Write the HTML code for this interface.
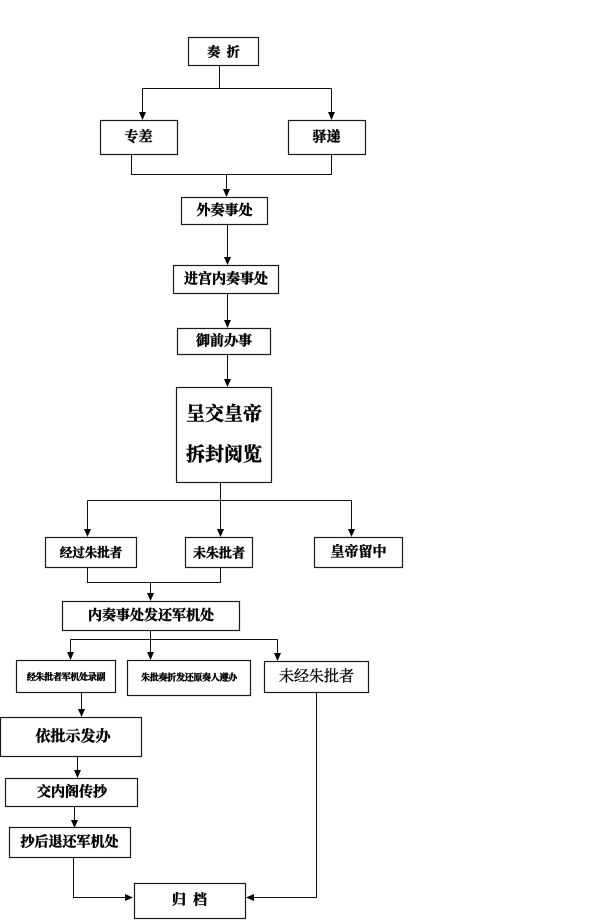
<!DOCTYPE html>
<html>
<head>
<meta charset="utf-8">
<style>
html,body{margin:0;padding:0;background:#fff;}
svg{display:block;}
text{font-family:"Liberation Serif","Noto Serif CJK SC","Noto Sans CJK SC",serif;font-weight:700;fill:#000;}
.b{stroke:#000;stroke-width:0.45;}
.m{font-weight:400;stroke:#000;stroke-width:0.35;}
</style>
</head>
<body>
<svg width="605" height="920" viewBox="0 0 605 920" xmlns="http://www.w3.org/2000/svg">
<g fill="none" stroke="#1a1a1a" stroke-width="1.2">
  <rect x="188.5" y="37.5" width="70" height="28"/>
  <rect x="100.5" y="120.5" width="77" height="34"/>
  <rect x="288.5" y="120.5" width="77" height="34"/>
  <rect x="181.5" y="197.5" width="86" height="27"/>
  <rect x="173.5" y="265.5" width="105" height="28"/>
  <rect x="177.5" y="328.5" width="93" height="26"/>
  <rect x="176.5" y="387.5" width="95" height="95"/>
  <rect x="45.5" y="537.5" width="91" height="30"/>
  <rect x="185.5" y="537.5" width="67" height="30"/>
  <rect x="314.5" y="537.5" width="88" height="30"/>
  <rect x="62.5" y="601.5" width="177" height="29"/>
  <rect x="16.5" y="660.5" width="99" height="32"/>
  <rect x="127.5" y="660.5" width="123" height="35"/>
  <rect x="264.5" y="661.5" width="104" height="31"/>
  <rect x="0.5" y="717.5" width="141" height="39"/>
  <rect x="5.5" y="778.5" width="132" height="28"/>
  <rect x="9.5" y="827.5" width="121" height="30"/>
  <rect x="134.5" y="883.5" width="111" height="35"/>
</g>
<g fill="none" stroke="#111" stroke-width="1">
  <path d="M219.5 65.5 V88.5 M142.5 88.5 H331.5 M142.5 88.5 V113 M331.5 88.5 V113"/>
  <path d="M131.5 154.5 V174.5 H331.5 V154.5 M226.5 174.5 V190"/>
  <path d="M227.5 224.5 V258"/>
  <path d="M227.5 293.5 V321"/>
  <path d="M227.5 354.5 V380"/>
  <path d="M220.5 482.5 V500.5 M87.5 500.5 H351.5 M87.5 500.5 V530 M220.5 500.5 V530 M351.5 500.5 V530"/>
  <path d="M87.5 567.5 V582.5 H220.5 V567.5 M150.5 582.5 V594"/>
  <path d="M150.5 630.5 V639.5 M70.5 639.5 H277.5 M70.5 639.5 V653 M150.5 639.5 V653 M277.5 639.5 V654"/>
  <path d="M81.5 692.5 V710"/>
  <path d="M77.5 756.5 V771"/>
  <path d="M74.5 806.5 V821"/>
  <path d="M73.5 857.5 V897.5 H126"/>
  <path d="M316.5 692.5 V897.5 H252"/>
</g>
<g fill="#000">
  <polygon points="139,112 146,112 142.5,120"/>
  <polygon points="328,112 335,112 331.5,120"/>
  <polygon points="223,189 230,189 226.5,197"/>
  <polygon points="224,257 231,257 227.5,265"/>
  <polygon points="224,320 231,320 227.5,328"/>
  <polygon points="224,379 231,379 227.5,387"/>
  <polygon points="84,529 91,529 87.5,537"/>
  <polygon points="217,529 224,529 220.5,537"/>
  <polygon points="348,529 355,529 351.5,537"/>
  <polygon points="147,593 154,593 150.5,601"/>
  <polygon points="67,652 74,652 70.5,660"/>
  <polygon points="147,652 154,652 150.5,660"/>
  <polygon points="274,653 281,653 277.5,661"/>
  <polygon points="78,709 85,709 81.5,717"/>
  <polygon points="74,770 81,770 77.5,778"/>
  <polygon points="71,820 78,820 74.5,828"/>
  <polygon points="125,894 125,901 133,897.5"/>
  <polygon points="254,894 254,901 246,897.5"/>
</g>
<g text-anchor="middle" dominant-baseline="central">
  <text class="b" x="223.5" y="52" font-size="13">奏&#160;&#160;折</text>
  <text class="b" x="138.5" y="138" font-size="14">专差</text>
  <text class="b" x="326.5" y="138" font-size="14">驿递</text>
  <text class="b" x="224.5" y="211.5" font-size="14">外奏事处</text>
  <text class="b" x="226" y="280" font-size="14">进宫内奏事处</text>
  <text class="b" x="224" y="342" font-size="14">御前办事</text>
  <text class="b" x="224" y="414.5" font-size="19">呈交皇帝</text>
  <text class="b" x="224" y="455" font-size="19">拆封阅览</text>
  <text class="b" x="91" y="553" font-size="12.5">经过朱批者</text>
  <text class="b" x="219" y="553" font-size="13">未朱批者</text>
  <text class="b" x="358.5" y="553" font-size="14">皇帝留中</text>
  <text class="b" x="151" y="616.5" font-size="14">内奏事处发还军机处</text>
  <text class="b" x="66" y="677" font-size="9" letter-spacing="-0.3">经朱批者军机处录副</text>
  <text class="b" x="189" y="677.5" font-size="9" letter-spacing="-0.3">朱批奏折发还原奏人遵办</text>
  <text class="m" x="316.5" y="677" font-size="15">未经朱批者</text>
  <text class="b" x="73" y="737" font-size="15">依批示发办</text>
  <text class="b" x="72" y="793" font-size="14">交内阁传抄</text>
  <text class="b" x="69.5" y="843" font-size="14">抄后退还军机处</text>
  <text class="b" x="189.5" y="901" font-size="14">归&#160;&#160;档</text>
</g>
</svg>
</body>
</html>
